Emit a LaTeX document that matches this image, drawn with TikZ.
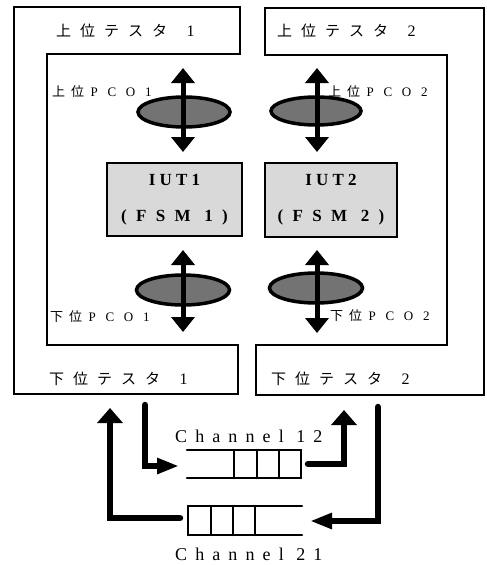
\documentclass[tikz,border=0pt]{standalone}
\usepackage{fontspec}
\setmainfont{Liberation Serif}
\newfontfamily\jpls[LetterSpace=60]{Noto Sans CJK JP}
\newfontfamily\jpsm[LetterSpace=45]{Noto Sans CJK JP}
\newfontfamily\lsp[LetterSpace=45]{Liberation Serif}
\newfontfamily\lspw[LetterSpace=75]{Liberation Serif}
\newfontfamily\iutfont[LetterSpace=25]{Liberation Serif Bold}
\newfontfamily\fsmfont[LetterSpace=55]{Liberation Serif Bold}
\usetikzlibrary{arrows.meta,shapes.geometric,calc}

\tikzset{
  tester/.style={line width=2.5pt, line join=miter},
  iut/.style={draw, line width=2.5pt, fill=black!15, rectangle, inner sep=0pt, align=center, font=\fontsize{17}{36}\selectfont},
  pco/.style={ellipse, draw, line width=3.5pt, fill=black!55, inner sep=0pt},
  pcoarrow/.style={line width=5pt, {Triangle[width=23pt,length=15pt]}-{Triangle[width=23pt,length=15pt]}},
  chanarrow/.style={line width=6.5pt, line cap=round},
  uphead/.style={-{Triangle[width=25pt,length=15pt]}},
  sidehead/.style={-{Triangle[width=15pt,length=22pt]}},
  queue/.style={line width=2.5pt, line cap=round},
  lbl/.style={anchor=west, inner sep=0pt},
  testerlbl/.style={lbl, font=\fontsize{15}{15}\selectfont},
  pcolbl/.style={lbl, font=\fontsize{13}{13}\selectfont},
  chanlbl/.style={anchor=base west, inner sep=0pt, font=\lsp\fontsize{18}{18}\selectfont}
}

\begin{document}
\begin{tikzpicture}[x=1pt,y=-1pt]
\useasboundingbox (0,0) rectangle (487,565);

% testers
\draw[tester] (14,7) -- (240,7) -- (240,54) -- (47,54) -- (47,345) -- (238,345) -- (238,394) -- (14,394) -- cycle;
\draw[tester] (265,8) -- (484,8) -- (484,395) -- (256,395) -- (256,345) -- (447,345) -- (447,55) -- (265,55) -- cycle;
\node[testerlbl] (ut1) at (56,31) {\jpls 上位テスタ\hspace*{1.3em}{\lsp\fontsize{16}{16}\selectfont 1}};
\node[testerlbl] (ut2) at (277,31) {\jpls 上位テスタ\hspace*{1.3em}{\lsp\fontsize{16}{16}\selectfont 2}};
\node[testerlbl] (lt1) at (49,379) {\jpls 下位テスタ\hspace*{1.3em}{\lsp\fontsize{16}{16}\selectfont 1}};
\node[testerlbl] (lt2) at (271,379) {\jpls 下位テスタ\hspace*{1.3em}{\lsp\fontsize{16}{16}\selectfont 2}};

% IUTs
\node[iut, minimum width=135pt, minimum height=73pt] (iut1) at (174.5,199.5) {{\iutfont IUT1}\\{\fsmfont (FSM 1)}};
\node[iut, minimum width=132pt, minimum height=74pt] (iut2) at (331,200) {{\iutfont IUT2}\\{\fsmfont (FSM 2)}};

% PCOs
\node[pco, minimum width=92pt, minimum height=30pt] (pcoU1) at (184,112) {};
\node[pco, minimum width=90pt, minimum height=28pt] (pcoU2) at (316,111) {};
\node[pco, minimum width=93pt, minimum height=30pt] (pcoL1) at (183,290) {};
\node[pco, minimum width=93pt, minimum height=30pt] (pcoL2) at (316,288) {};
\draw[pcoarrow] ($(pcoU1)+(-1,-44)$) -- ($(pcoU1)+(-1,40)$);
\draw[pcoarrow] ($(pcoU2)+(1,-43)$) -- ($(pcoU2)+(1,41)$);
\draw[pcoarrow] ($(pcoL1)+(0,-40)$) -- ($(pcoL1)+(0,42)$);
\draw[pcoarrow] ($(pcoL2)+(1,-38)$) -- ($(pcoL2)+(1,45)$);
\node[pcolbl] (pu1) at (52,92) {\jpsm 上位\hspace*{0.5em}{\lspw PCO1}};
\node[pcolbl] (pu2) at (328,92) {\jpsm 上位\hspace*{0.5em}{\lspw PCO2}};
\node[pcolbl] (pl1) at (50,317) {\jpsm 下位\hspace*{0.5em}{\lspw PCO1}};
\node[pcolbl] (pl2) at (330,316) {\jpsm 下位\hspace*{0.5em}{\lspw PCO2}};

% channels
\node[chanlbl] (c12) at (175,442) {Channel 12};
\node[chanlbl] (c21) at (175,560) {Channel 21};
\draw[queue] (187,450) -- (301,450) (187,478) -- (301,478);
\foreach \x in {234,257,279,301} \draw[queue] (\x,450) -- (\x,478);
\draw[queue] (188,506) -- (302,506) (188,535) -- (302,535);
\foreach \x in {188,211,233,255} \draw[queue] (\x,506) -- (\x,535);

\coordinate (t1out) at (145,405);
\coordinate (q12in) at (179,466);
\coordinate (q12out) at (308,464);
\coordinate (t2in) at (344,410);
\coordinate (t2out) at (378,407);
\coordinate (q21in) at (310,521);
\coordinate (q21out) at (180,518);
\coordinate (t1in) at (110,408);
\draw[chanarrow, sidehead] (t1out) |- (q12in);
\draw[chanarrow, uphead] (q12out) -| (t2in);
\draw[chanarrow, sidehead] (t2out) |- (q21in);
\draw[chanarrow, uphead] (q21out) -| (t1in);
\end{tikzpicture}
\end{document}
